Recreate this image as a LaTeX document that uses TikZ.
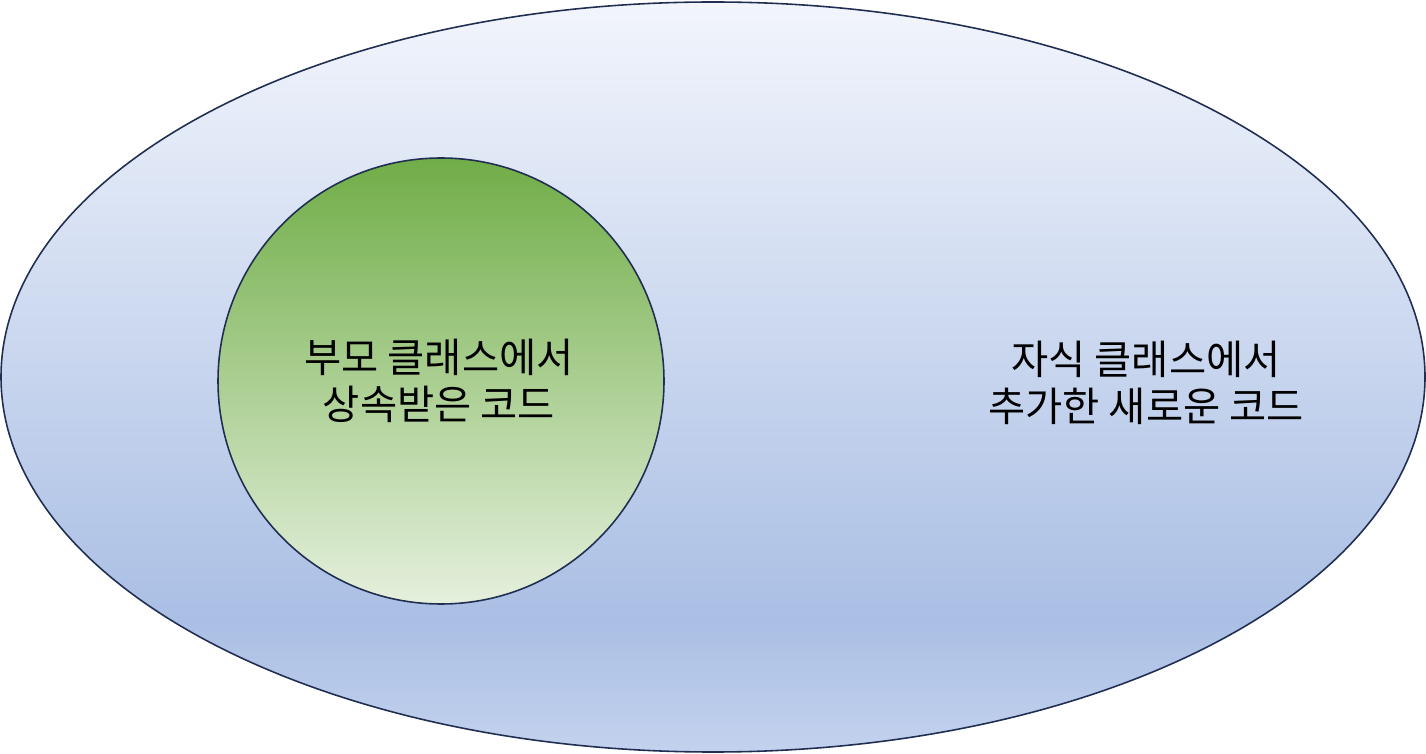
\documentclass[tikz,border=0pt]{standalone}
\usepackage{fontspec}
\newfontfamily\krfont{Noto Sans CJK KR}
\usepackage{xcolor}
\usepackage{tikz}
\usetikzlibrary{shapes.geometric}
\definecolor{CLNavy}{RGB}{32,46,82}
\definecolor{CLSkyTop}{RGB}{242,245,252}
\definecolor{CLSkyDeep}{RGB}{170,191,228}
\definecolor{CLSkyLow}{RGB}{195,210,238}
\definecolor{CLLeaf}{RGB}{112,173,71}
\definecolor{CLLeafPale}{RGB}{229,240,221}
\pgfdeclareverticalshading{childfill}{100bp}{color(0bp)=(CLSkyLow); color(25bp)=(CLSkyLow);
  color(33.8bp)=(CLSkyDeep); color(75bp)=(CLSkyTop); color(100bp)=(CLSkyTop)}

\begin{document}
\begin{tikzpicture}[
      setshape/.style={draw=CLNavy, line width=0.9pt, inner sep=0pt},
      lbl/.style={align=center, text=black,
                  font=\krfont\fontsize{23pt}{26.5pt}\selectfont}
    ]
    \useasboundingbox (0,0) rectangle (28.52,-15.08);

    % child class (outer set)
    \node[setshape, ellipse, minimum width=28.48cm, minimum height=15.0cm,
          shade, shading=childfill] (child) at (14.26,-7.54) {};
    % parent class (inner set)
    \node[setshape, circle, minimum size=8.92cm,
          top color=CLLeaf, bottom color=CLLeafPale] (parent) at (8.82,-7.62) {};

    \node[lbl] (inherited) at (8.78,-7.62) {부모 클래스에서\\상속받은 코드};
    \node[lbl] (added)     at (22.92,-7.66) {자식 클래스에서\\추가한 새로운 코드};
  \end{tikzpicture}
\end{document}
